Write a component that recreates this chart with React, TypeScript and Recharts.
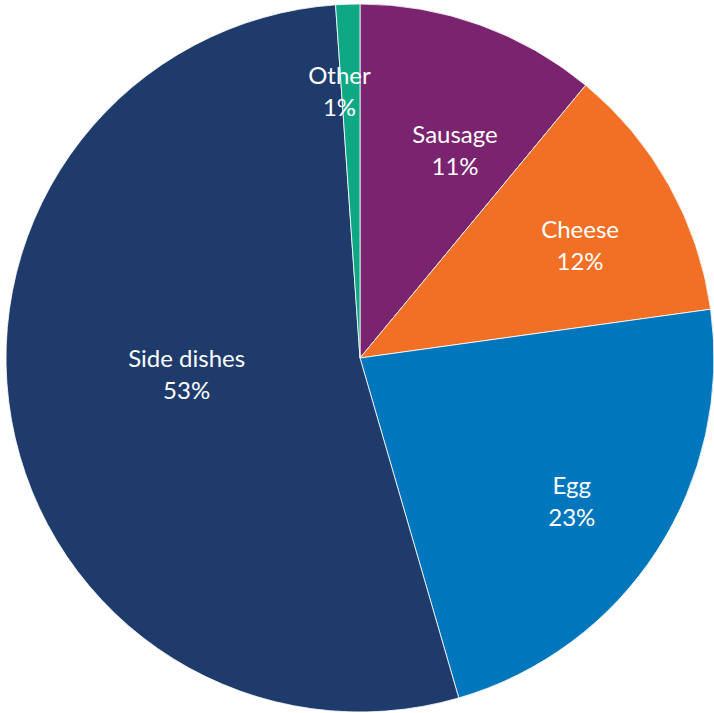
import React from 'react';
import { PieChart, Pie, Cell } from 'recharts';

const categories = ['Sausage', 'Cheese', 'Egg', 'Side dishes', 'Other'];
const shares = [11.0, 11.8, 22.7, 53.4, 1.1];
const colors = ['#7A236E', '#F26F26', '#0076BD', '#1E3B6B', '#0FA884'];

// label placement: radius from centre and clockwise nudge (degrees) per slice
const labelRadius = [230, 248, 255, 174, 269];
const labelNudge = [4.6, 1.7, 0.9, 5.1, -2.4];

const data = categories.map((name, i) => ({ name, value: shares[i] }));

const RAD = Math.PI / 180;

const renderLabel = (props: any) => {
  const { cx, cy, midAngle, index, percent, name } = props;
  const a = (midAngle - labelNudge[index]) * RAD;
  const r = labelRadius[index];
  const x = cx + r * Math.cos(-a);
  const y = cy + r * Math.sin(-a);
  return (
    <text
      x={x}
      y={y}
      fill="#ffffff"
      textAnchor="middle"
      dominantBaseline="central"
      style={{ fontFamily: 'Lato, sans-serif', fontSize: 24 }}
    >
      <tspan x={x} y={y - 16}>{name}</tspan>
      <tspan x={x} y={y + 16}>{`${Math.round(percent * 100)}%`}</tspan>
    </text>
  );
};

export default function App() {
  return (
    <div style={{ position: 'fixed', left: 0, top: 0, width: 714, height: 713, background: '#fff' }}>
      <PieChart width={714} height={713} margin={{ top: 0, right: 0, bottom: 0, left: 0 }}>
        <Pie
          data={data}
          dataKey="value"
          nameKey="name"
          cx={360}
          cy={358}
          outerRadius={354}
          startAngle={90}
          endAngle={-270}
          stroke="#ffffff"
          strokeWidth={0.8}
          label={renderLabel}
          labelLine={false}
          isAnimationActive={false}
        >
          {data.map((d, i) => (
            <Cell key={d.name} fill={colors[i]} />
          ))}
        </Pie>
      </PieChart>
    </div>
  );
}
